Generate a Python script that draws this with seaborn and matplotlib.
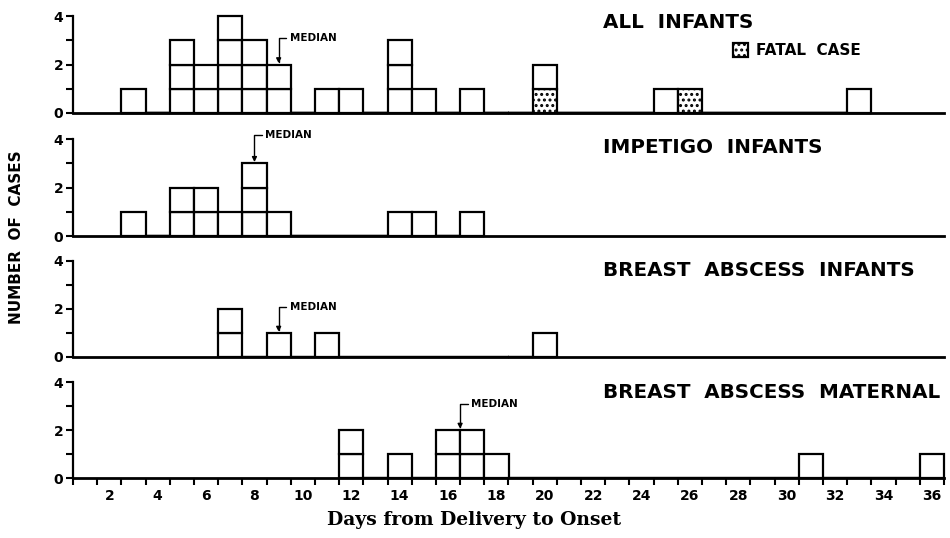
import numpy as np
import pandas as pd
import matplotlib
matplotlib.use("Agg")
import matplotlib.pyplot as plt
from matplotlib.patches import Patch
from matplotlib.ticker import FixedLocator
import seaborn as sns

sns.set_style("ticks")
plt.rcParams["font.family"] = ["DejaVu Sans"]
plt.rcParams["font.weight"] = "bold"
plt.rcParams["hatch.linewidth"] = 1.4
for k in ["text.color", "axes.labelcolor", "xtick.color", "ytick.color",
          "axes.edgecolor"]:
    plt.rcParams[k] = "black"

# ---------------- data ----------------
panel_titles = ["ALL  INFANTS", "IMPETIGO  INFANTS", "BREAST  ABSCESS  INFANTS",
                "BREAST  ABSCESS  MATERNAL"]

all_days = [3, 5, 6, 7, 8, 9, 11, 12, 14, 15, 17, 20, 25, 26, 33]
all_counts = [1, 3, 2, 4, 3, 2, 1, 1, 3, 1, 1, 2, 1, 1, 1]
fatal_days = [20, 26]          # the bottom case on these days was fatal

imp_days = [3, 5, 6, 7, 8, 9, 14, 15, 17]
imp_counts = [1, 2, 2, 1, 3, 1, 1, 1, 1]

bai_days = [7, 9, 11, 20]
bai_counts = [2, 1, 1, 1]

bam_days = [12, 14, 16, 17, 18, 31, 36]
bam_counts = [2, 1, 2, 2, 1, 1, 1]

medians = [9, 8, 9, 16.5]

x_tick_labels = list(range(2, 37, 2))
y_tick_labels = [0, 2, 4]

panels = [(all_days, all_counts), (imp_days, imp_counts),
          (bai_days, bai_counts), (bam_days, bam_counts)]

# ---------------- layout ----------------
W, H = 950, 538
fig = plt.figure(figsize=(W / 100, H / 100), dpi=100)
left, right = 73 / W, 944 / W
panel_px = [(16, 113), (139, 236), (261, 357), (382, 478)]
title_y = [0.935, 0.915, 0.905, 0.895]
median_text_y = [3.08, 4.18, 2.08, 3.08]

for i, ((days, counts), (top_px, bot_px)) in enumerate(zip(panels, panel_px)):
    ax = fig.add_axes([left, 1 - bot_px / H, right - left, (bot_px - top_px) / H])
    rows = []
    for d, c in zip(days, counts):
        for r in range(1, c + 1):
            rows.append({"day": d, "rank": r})
    df = pd.DataFrame(rows)
    ranks = sorted(df["rank"].unique())
    sns.histplot(data=df, x="day", hue="rank", hue_order=ranks,
                 multiple="stack", discrete=True, shrink=1,
                 palette={r: "white" for r in ranks}, alpha=1,
                 edgecolor="black", linewidth=1.6, legend=False, ax=ax)
    for p in ax.patches:
        p.set_clip_on(False)
        cx = p.get_x() + p.get_width() / 2
        if i == 0 and p.get_height() > 0 and abs(p.get_y()) < 1e-6 \
                and int(round(cx)) in fatal_days:
            p.set_hatch("...")
    ax.set_xlim(0.5, 36.5)
    ax.set_ylim(0, 4)
    ax.set_xlabel("")
    ax.set_ylabel("")
    for s in ["top", "right"]:
        ax.spines[s].set_visible(False)
    ax.spines["left"].set_linewidth(1.6)
    ax.spines["bottom"].set_linewidth(2.0)
    ax.set_yticks(y_tick_labels)
    ax.set_yticks([1, 3], minor=True)
    ax.tick_params(axis="y", which="both", length=5, width=1.5, pad=2,
                   labelsize=10, direction="out")
    for t in ax.get_yticklabels():
        t.set_fontweight("bold")

    if i < 3:
        ax.set_xticks([])
        ax.tick_params(axis="x", which="both", length=0)
    else:
        ax.set_xticks(x_tick_labels)
        ax.xaxis.set_minor_locator(FixedLocator(np.arange(0.5, 37, 1.0)))
        ax.tick_params(axis="x", which="major", length=0, pad=8, labelsize=10)
        ax.tick_params(axis="x", which="minor", length=5, width=1.5,
                       direction="out")
        for t in ax.get_xticklabels():
            t.set_fontweight("bold")

    ax.text(0.6085, title_y[i], panel_titles[i], transform=ax.transAxes,
            ha="left", va="center", fontsize=14.3, fontweight="bold")

    # median marker
    m = medians[i]
    d_arr = np.array(days)
    c_arr = np.array(counts)
    near = c_arr[np.abs(d_arr - m) <= 0.5]
    tip = (near.max() if len(near) else 0) + 0.05
    ax.annotate("MEDIAN", xy=(m, tip), xytext=(m + 0.45, median_text_y[i]),
                ha="left", va="center", fontsize=7.5, fontweight="bold",
                annotation_clip=False,
                arrowprops=dict(arrowstyle="-|>", color="black", lw=1.0,
                                mutation_scale=7, shrinkA=0, shrinkB=0,
                                relpos=(0, 0.5),
                                connectionstyle="angle,angleA=0,angleB=90,rad=0"))

    if i == 0:
        ax.legend(handles=[Patch(facecolor="white", edgecolor="black",
                                 hatch="...", linewidth=1.6, label="FATAL  CASE")],
                  loc="center left", bbox_to_anchor=(0.758, 0.64), frameon=False,
                  handlelength=1.0, handleheight=1.0, handletextpad=0.5,
                  borderpad=0, borderaxespad=0,
                  prop={"size": 11, "weight": "bold"})

fig.text(17 / W, 1 - 237 / H, "NUMBER  OF  CASES", rotation=90, ha="center",
         va="center", fontsize=11, fontweight="bold")
fig.text(474 / W, 1 - 520 / H, "Days from Delivery to Onset", ha="center",
         va="center", fontsize=13.5, fontweight="bold", family="DejaVu Serif")

fig.savefig("out.png", dpi=100)
